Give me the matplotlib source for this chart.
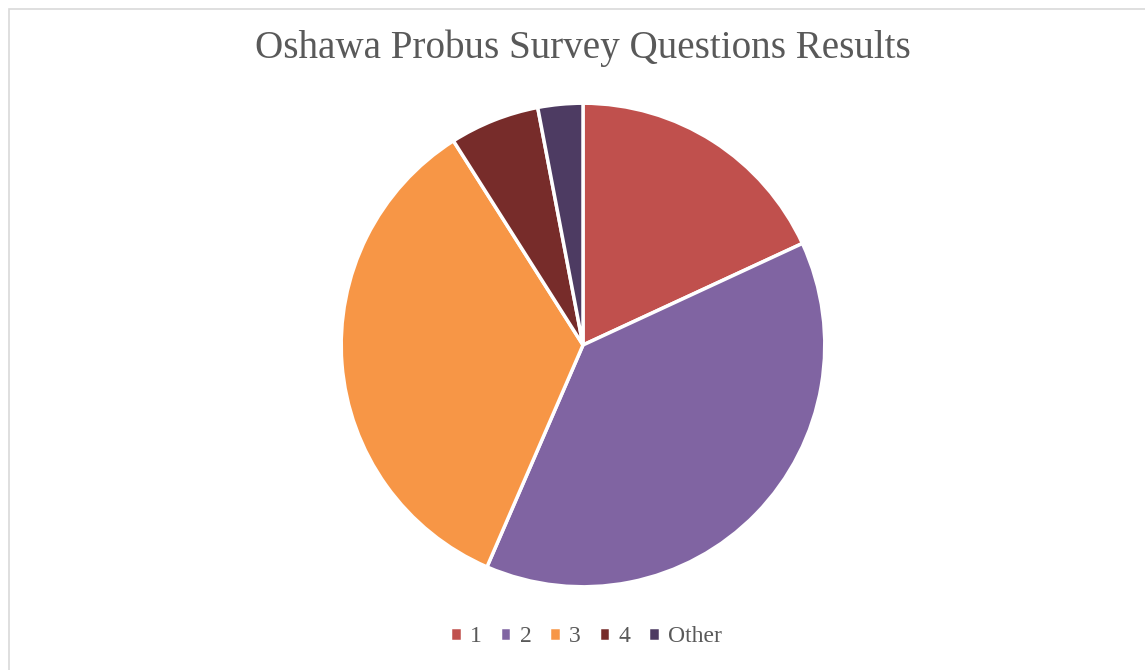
import matplotlib

matplotlib.use("Agg")
import matplotlib.pyplot as plt
from matplotlib.patches import Rectangle

# survey answer shares (percent)
labels = ["1", "2", "3", "4", "Other"]
shares = [18.1, 38.4, 34.5, 6.0, 3.0]
colors = ["#C0504D", "#8064A2", "#F79646", "#772C2A", "#4D3B62"]

TEXT = "#595959"
W, H = 1145, 670

plt.rcParams["font.family"] = ["Liberation Serif", "DejaVu Serif"]

fig = plt.figure(figsize=(W / 100, H / 100), dpi=100)

# light chart-area frame (runs off the right and bottom edges)
fig.patches.append(Rectangle((9 / W, -0.2), 1.2, 1.2 - 9 / H, transform=fig.transFigure,
                             fill=False, edgecolor="#D9D9D9", linewidth=1.2))

cx, cy, r = 583, 345, 243
ax = fig.add_axes([(cx - r) / W, 1 - (cy + r) / H, 2 * r / W, 2 * r / H])
wedges, _ = ax.pie(shares, colors=colors, startangle=90, counterclock=False, radius=1,
                   wedgeprops=dict(edgecolor="white", linewidth=2.5))
ax.set_xlim(-1.005, 1.005)
ax.set_ylim(-1.005, 1.005)
ax.set_aspect("equal")
ax.axis("off")

fig.text(583 / W, 1 - 48 / H, "Oshawa Probus Survey Questions Results", ha="center", va="center",
         fontsize=28.2, color=TEXT)

fig.legend(wedges, labels, loc="center", bbox_to_anchor=(586 / W, 1 - 637 / H), ncol=5,
           frameon=False, fontsize=17, labelcolor=TEXT, handlelength=0.5, handleheight=0.55,
           handletextpad=0.35, columnspacing=0.75)

fig.savefig("out.png", dpi=100)
